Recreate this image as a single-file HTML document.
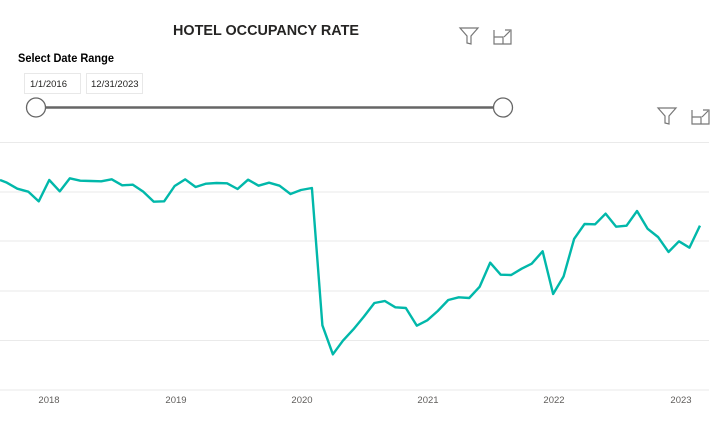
<!DOCTYPE html>
<html><head><meta charset="utf-8"><style>
html,body{margin:0;padding:0;background:#fff;width:716px;height:435px;overflow:hidden;font-family:"Liberation Sans",sans-serif}
</style></head><body>
<svg width="716" height="435" viewBox="0 0 716 435" xmlns="http://www.w3.org/2000/svg">
<text x="266" y="35" text-anchor="middle" font-family="Liberation Sans, sans-serif" font-weight="bold" font-size="14.5" fill="#252423" textLength="186" lengthAdjust="spacingAndGlyphs">HOTEL OCCUPANCY RATE</text>
<text x="18" y="62" font-family="Liberation Sans, sans-serif" font-weight="bold" font-size="11.5" fill="#000" textLength="96" lengthAdjust="spacingAndGlyphs">Select Date Range</text>
<rect x="24.5" y="73.5" width="56" height="20" fill="#fff" stroke="#e8e8e8"/>
<rect x="86.5" y="73.5" width="56" height="20" fill="#fff" stroke="#e8e8e8"/>
<text x="30" y="87" font-size="9.5" fill="#252423" font-family="Liberation Sans, sans-serif">1/1/2016</text>
<text x="91" y="87" font-size="9.5" fill="#252423" font-family="Liberation Sans, sans-serif">12/31/2023</text>
<line x1="45" y1="107.5" x2="494" y2="107.5" stroke="#666" stroke-width="2.5"/>
<circle cx="36" cy="107.5" r="9.5" fill="#fff" stroke="#666" stroke-width="1.3"/>
<circle cx="503" cy="107.5" r="9.5" fill="#fff" stroke="#666" stroke-width="1.3"/>
<g fill="none" stroke="#777" stroke-width="1.2">
<path d="M460,28 L478,28 L471,36 L471,44 L467,43 L467,36 Z"/>
<path d="M494,30 L494,44 L511,44 L511,36 M494,37 L503,37 L503,44 M505,30 L511,30 L511,36 M504,37 L510,31"/>
<path d="M658,108 L676,108 L669,116 L669,124 L665,123 L665,116 Z"/>
<path d="M692,110 L692,124 L709,124 L709,116 M692,117 L701,117 L701,124 M703,110 L709,110 L709,116 M702,117 L708,111"/>
</g>
<g stroke="#eaeaea" stroke-width="1">
<line x1="0" y1="142.5" x2="709" y2="142.5"/>
<line x1="0" y1="192" x2="709" y2="192"/>
<line x1="0" y1="241" x2="709" y2="241"/>
<line x1="0" y1="291" x2="709" y2="291"/>
<line x1="0" y1="340.5" x2="709" y2="340.5"/>
<line x1="0" y1="390" x2="709" y2="390"/>
</g>
<g font-size="9.5" fill="#605e5c" text-anchor="middle" font-family="Liberation Sans, sans-serif">
<text x="49" y="403">2018</text><text x="176" y="403">2019</text><text x="302" y="403">2020</text>
<text x="428" y="403">2021</text><text x="554" y="403">2022</text><text x="681" y="403">2023</text>
</g>
<polyline transform="translate(0,140) scale(0.456,0.33333)" vector-effect="non-scaling-stroke" fill="none" stroke="#01B8AA" stroke-width="2.4" stroke-linejoin="round"
points="0,120 15,128 38,146 62,155 85,184 108,120 131,154 153,115 176,122 199,123 222,124 245,118 268,136 291,134 314,155 337,185 360,184 383,138 406,118 429,141 452,131 475,129 498,130 521,147 544,119 567,137 590,128 613,137 637,162 660,150 684,144 707,556 730,643 752,602 775,568 798,530 821,489 844,483 867,502 890,504 914,557 937,541 960,513 983,480 1006,472 1029,474 1052,440 1075,368 1098,404 1121,405 1144,386 1166,371 1190,334 1213,462 1236,409 1259,297 1282,252 1305,253 1328,221 1351,260 1374,257 1397,213 1420,266 1443,291 1466,336 1489,304 1512,323 1535,257"/>
</svg>
</body></html>
